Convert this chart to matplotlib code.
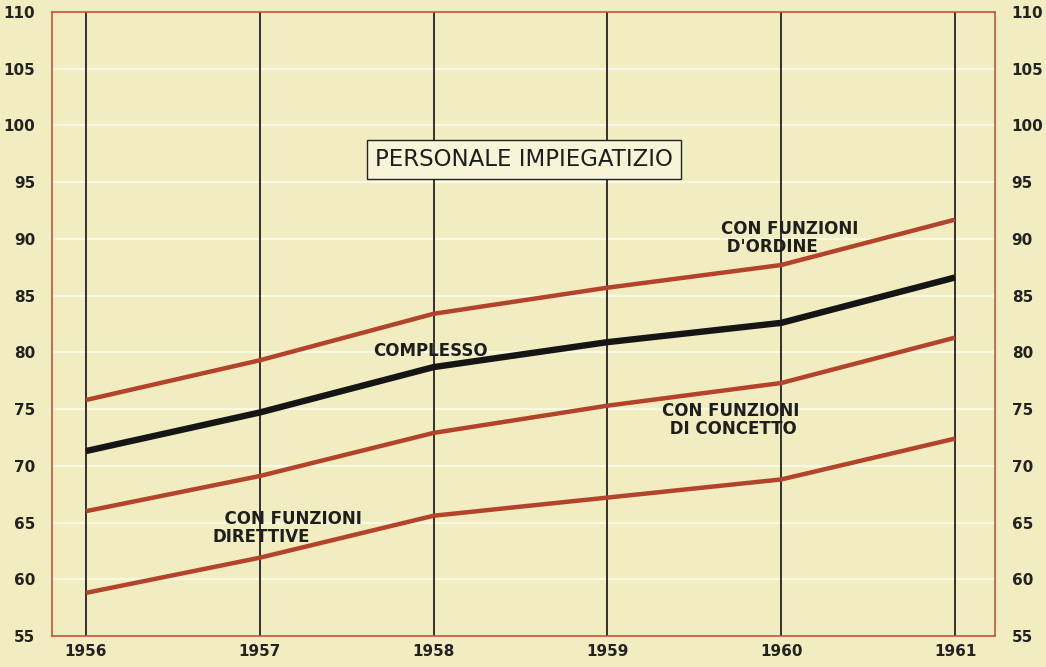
import matplotlib.pyplot as plt
import numpy as np

# Indici del personale impiegatizio, 1956-1961
anni = [1956, 1957, 1958, 1959, 1960, 1961]
funzioni_ordine = [75.8, 79.3, 83.4, 85.7, 87.7, 91.7]
complesso = [71.3, 74.7, 78.7, 80.9, 82.6, 86.6]
funzioni_concetto = [66.0, 69.1, 72.9, 75.3, 77.3, 81.3]
funzioni_direttive = [58.8, 61.9, 65.6, 67.2, 68.8, 72.4]
yticks = list(range(55, 111, 5))

sfondo = '#f1edc0'
rosso = '#b3432a'

fig = plt.figure(figsize=(10.46, 6.67), dpi=100, facecolor=sfondo)
ax = fig.add_axes([52/1046, 1 - 636/667, 943/1046, 624/667])
ax.set_facecolor(sfondo)

ax.set_xlim(1955.805, 1961.23)
ax.set_ylim(55, 110)

# griglia chiara orizzontale e linee degli anni
for v in yticks[1:-1]:
    ax.axhline(v, color='white', lw=1.6, alpha=0.6, zorder=1)
for a in anni:
    ax.axvline(a, color='#222222', lw=1.3, zorder=2)

ax.plot(anni, funzioni_ordine, color=rosso, lw=3.2, solid_capstyle='butt', zorder=3)
ax.plot(anni, funzioni_concetto, color=rosso, lw=3.2, solid_capstyle='butt', zorder=3)
ax.plot(anni, funzioni_direttive, color=rosso, lw=3.2, solid_capstyle='butt', zorder=3)
ax.plot(anni, complesso, color='#151515', lw=4.6, solid_capstyle='butt', zorder=4)

for s in ax.spines.values():
    s.set_color('#c4553c')
    s.set_linewidth(1.2)

ax.set_xticks(anni)
ax.set_xticklabels([str(a) for a in anni], fontsize=11, fontweight='bold', color='#222222')
ax.set_yticks(yticks)
ax.set_yticklabels([str(v) for v in yticks], fontsize=11, fontweight='bold', color='#222222')
ax.tick_params(axis='both', length=0)
ax.tick_params(axis='y', pad=12, labelright=True, labelleft=True)
ax.tick_params(axis='x', pad=6)

testo = dict(fontsize=12, fontweight='bold', color='#1e1e1e', zorder=5,
             family='DejaVu Sans', linespacing=1.0)
ax.text(1958.52, 97.0, 'PERSONALE IMPIEGATIZIO', fontsize=16.5, color='#1e1e1e',
        family='DejaVu Sans', ha='center', va='center', zorder=6,
        bbox=dict(boxstyle='square,pad=0.35', fc='#f7f4d8', ec='#222222', lw=1.0))
ax.text(1959.655, 90.05, "CON FUNZIONI\n D'ORDINE", ha='left', va='center', **testo)
ax.text(1957.98, 80.1, 'COMPLESSO', ha='center', va='center', **testo)
ax.text(1959.71, 74.0, "CON FUNZIONI\n DI CONCETTO", ha='center', va='center', **testo)
ax.text(1956.73, 64.55, "  CON FUNZIONI\nDIRETTIVE", ha='left', va='center', **testo)

fig.savefig('out.png', dpi=100, facecolor=sfondo)
